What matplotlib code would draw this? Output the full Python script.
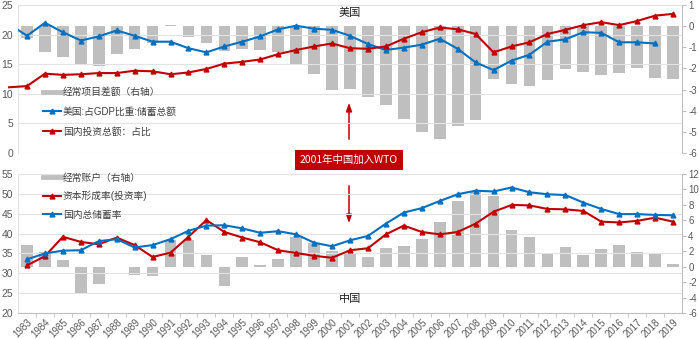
import matplotlib
matplotlib.use("Agg")
import matplotlib.pyplot as plt
from matplotlib.lines import Line2D
from matplotlib.patches import FancyArrowPatch

plt.rcParams['font.family'] = ['Liberation Sans', 'Noto Sans CJK SC']
plt.rcParams['axes.unicode_minus'] = False

# ---- data ----
years = list(range(1983, 2020))
year_labels = [str(y) for y in years]

# US: current account (% GDP, right axis)
us_ca = [-0.54, -1.22, -1.48, -1.77, -1.88, -1.34, -1.09, -0.82, 0.05, -0.5,
         -0.82, -1.17, -1.06, -1.14, -1.22, -1.77, -2.24, -3.03, -2.95, -3.35,
         -3.74, -4.38, -5.0, -5.32, -4.72, -4.42, -2.48, -2.76, -2.84, -2.56,
         -2.04, -2.16, -2.32, -2.21, -2.0, -2.43, -2.51]
# US savings, 1982-2018
us_saving_years = list(range(1982, 2019))
us_saving = [21.8, 19.8, 22.0, 20.4, 19.0, 19.7, 20.7, 19.8, 18.8, 18.8,
             17.7, 17.0, 18.0, 18.8, 19.7, 20.9, 21.5, 21.0, 20.8, 19.8,
             18.4, 17.4, 17.8, 18.3, 19.3, 17.6, 15.3, 14.0, 15.6, 16.6,
             18.8, 19.2, 20.4, 20.3, 18.7, 18.7, 18.5]
# US investment, 1982-2019
us_invest_years = list(range(1982, 2020))
us_invest = [11.1, 11.3, 13.4, 13.2, 13.3, 13.5, 13.5, 13.9, 13.8, 13.3,
             13.6, 14.2, 15.1, 15.4, 15.8, 16.7, 17.4, 18.0, 18.5, 17.7,
             17.6, 18.0, 19.3, 20.4, 21.2, 20.9, 20.1, 17.0, 18.0, 18.7,
             20.1, 20.8, 21.6, 22.1, 21.6, 22.3, 23.2, 23.5]

# China
cn_ca = [2.8, 1.84, 0.84, -3.57, -2.19, -0.1, -1.1, -1.2, 3.43, 3.5,
         1.49, -2.53, 1.27, 0.28, 0.93, 3.87, 3.09, 2.0, 1.7, 1.27,
         2.44, 2.65, 3.56, 5.8, 8.5, 9.7, 9.2, 4.8, 3.87, 1.8,
         2.57, 1.57, 2.35, 2.8, 1.88, 1.62, 0.4]
cn_saving = [33.5, 35.0, 35.7, 35.8, 38.1, 38.6, 36.5, 37.1, 38.6, 40.7,
             42.0, 42.1, 41.3, 40.2, 40.6, 39.8, 37.7, 36.8, 38.3, 39.4,
             42.5, 45.3, 46.4, 48.2, 49.9, 50.8, 50.6, 51.6, 50.4, 49.9,
             49.7, 47.8, 46.2, 44.9, 44.9, 44.7, 44.6]
cn_invest = [32.0, 34.3, 39.2, 37.9, 37.3, 39.0, 37.1, 34.1, 35.2, 39.2,
             43.4, 40.4, 39.0, 37.8, 35.8, 35.1, 34.4, 33.9, 35.8, 36.3,
             39.8, 42.0, 40.4, 39.8, 40.4, 42.5, 45.5, 47.2, 47.1, 46.2,
             46.1, 45.7, 43.0, 42.8, 43.2, 44.0, 43.0]

BLUE = "#0070C0"
RED = "#C00000"
BAR = "#BFBFBF"
GRID = "#E3E3E3"
TXT = "#404040"

W, H = 699, 339
fig = plt.figure(figsize=(W / 100, H / 100), dpi=100)


def style_axes(ax, ax2):
    ax.set_xlim(1982.5, 2019.5)
    ax.set_zorder(ax2.get_zorder() + 1)
    ax.patch.set_visible(False)
    ax.grid(axis="y", color=GRID, lw=0.8)
    ax.set_axisbelow(True)
    for a in (ax, ax2):
        for s in ("top", "left", "bottom", "right"):
            a.spines[s].set_visible(False)
        a.tick_params(labelsize=7.5, colors="#595959", length=0)
    ax2.spines["right"].set_visible(True)
    ax2.spines["right"].set_color("#BFBFBF")
    ax2.tick_params(axis="y", length=3, color="#BFBFBF", pad=1.5, labelsize=7)
    ax.spines["left"].set_visible(True)
    ax.spines["left"].set_color("#E3E3E3")


# ---- US panel ----
ax = fig.add_axes([18 / W, 1 - 153 / H, 664 / W, 148 / H])
ax2 = ax.twinx()
ax2.bar(years, us_ca, width=0.65, color=BAR, zorder=2)
ax2.set_ylim(-6, 1)
ax2.set_yticks(range(-6, 2))
ax.plot(us_saving_years, us_saving, color=BLUE, lw=1.5, marker="^", ms=3.5, zorder=3)
ax.plot(us_invest_years, us_invest, color=RED, lw=1.5, marker="^", ms=3.5,
        markevery=slice(1, None), clip_on=False, zorder=3)
ax.set_ylim(0, 25)
ax.set_yticks(range(0, 26, 5))
ax.set_xticks(years)
ax.tick_params(axis="x", labelbottom=False)
style_axes(ax, ax2)
ax.text(0.5, 0.95, "美国", transform=ax.transAxes, ha="center", va="center",
        fontsize=8, color="#222222", family=['Noto Sans CJK SC'])
h_us = [Line2D([], [], color=BAR, lw=3.5),
        Line2D([], [], color=BLUE, lw=1.5, marker="^", ms=3.5),
        Line2D([], [], color=RED, lw=1.5, marker="^", ms=3.5)]
ax.legend(h_us, ["经常项目差额（右轴）", "美国:占GDP比重:储蓄总额", "国内投资总额：占比"],
          loc="upper left", bbox_to_anchor=(0.038, 0.445), frameon=False,
          fontsize=7, labelspacing=1.0, handlelength=1.8, handletextpad=0.2,
          borderpad=0, borderaxespad=0, labelcolor=TXT)

# ---- China panel ----
bx = fig.add_axes([18 / W, 1 - 313 / H, 664 / W, 139 / H])
bx2 = bx.twinx()
bx2.bar(years, cn_ca, width=0.65, color=BAR, zorder=2)
bx2.set_ylim(-6, 12)
bx2.set_yticks(range(-6, 13, 2))
bx.plot(years, cn_invest, color=RED, lw=1.5, marker="^", ms=3.5, zorder=3)
bx.plot(years, cn_saving, color=BLUE, lw=1.5, marker="^", ms=3.5, zorder=3)
bx.set_ylim(20, 55)
bx.set_yticks(range(20, 56, 5))
style_axes(bx, bx2)
bx.spines["bottom"].set_visible(True)
bx.spines["bottom"].set_color("#BFBFBF")
bx.set_xticks([y + 0.5 for y in years[:-1]], minor=True)
bx.set_xticks(years)
bx.set_xticklabels(year_labels, rotation=45, ha="right", rotation_mode="anchor", fontsize=7)
bx.tick_params(axis="x", which="major", length=0, pad=3)
bx.tick_params(axis="x", which="minor", length=3, color="#BFBFBF")
bx.text(0.5, 0.1, "中国", transform=bx.transAxes, ha="center", va="center",
        fontsize=8, color="#222222", family=['Noto Sans CJK SC'])
h_cn = [Line2D([], [], color=BAR, lw=3.5),
        Line2D([], [], color=RED, lw=1.5, marker="^", ms=3.5),
        Line2D([], [], color=BLUE, lw=1.5, marker="^", ms=3.5)]
bx.legend(h_cn, ["经常账户（右轴）", "资本形成率(投资率)", "国内总储蓄率"],
          loc="upper left", bbox_to_anchor=(0.038, 1.01), frameon=False,
          fontsize=7, labelspacing=0.85, handlelength=1.8, handletextpad=0.2,
          borderpad=0, borderaxespad=0, labelcolor=TXT)

# ---- WTO annotation ----
cx = 349 / W
fig.text(cx, 1 - 160 / H, "2001年中国加入WTO", ha="center", va="center",
         fontsize=7.5, color="white", family=['Noto Sans CJK SC'],
         bbox=dict(boxstyle="square,pad=0.45", fc=RED, ec="none"))
for y0, y1 in [(142, 100), (183, 226)]:
    fig.add_artist(FancyArrowPatch(
        (cx, 1 - y0 / H), (cx, 1 - y1 / H), transform=fig.transFigure,
        arrowstyle="-|>,head_length=0.7,head_width=0.25", mutation_scale=7,
        color=RED, lw=1.1))

fig.savefig("out.png", dpi=100)
